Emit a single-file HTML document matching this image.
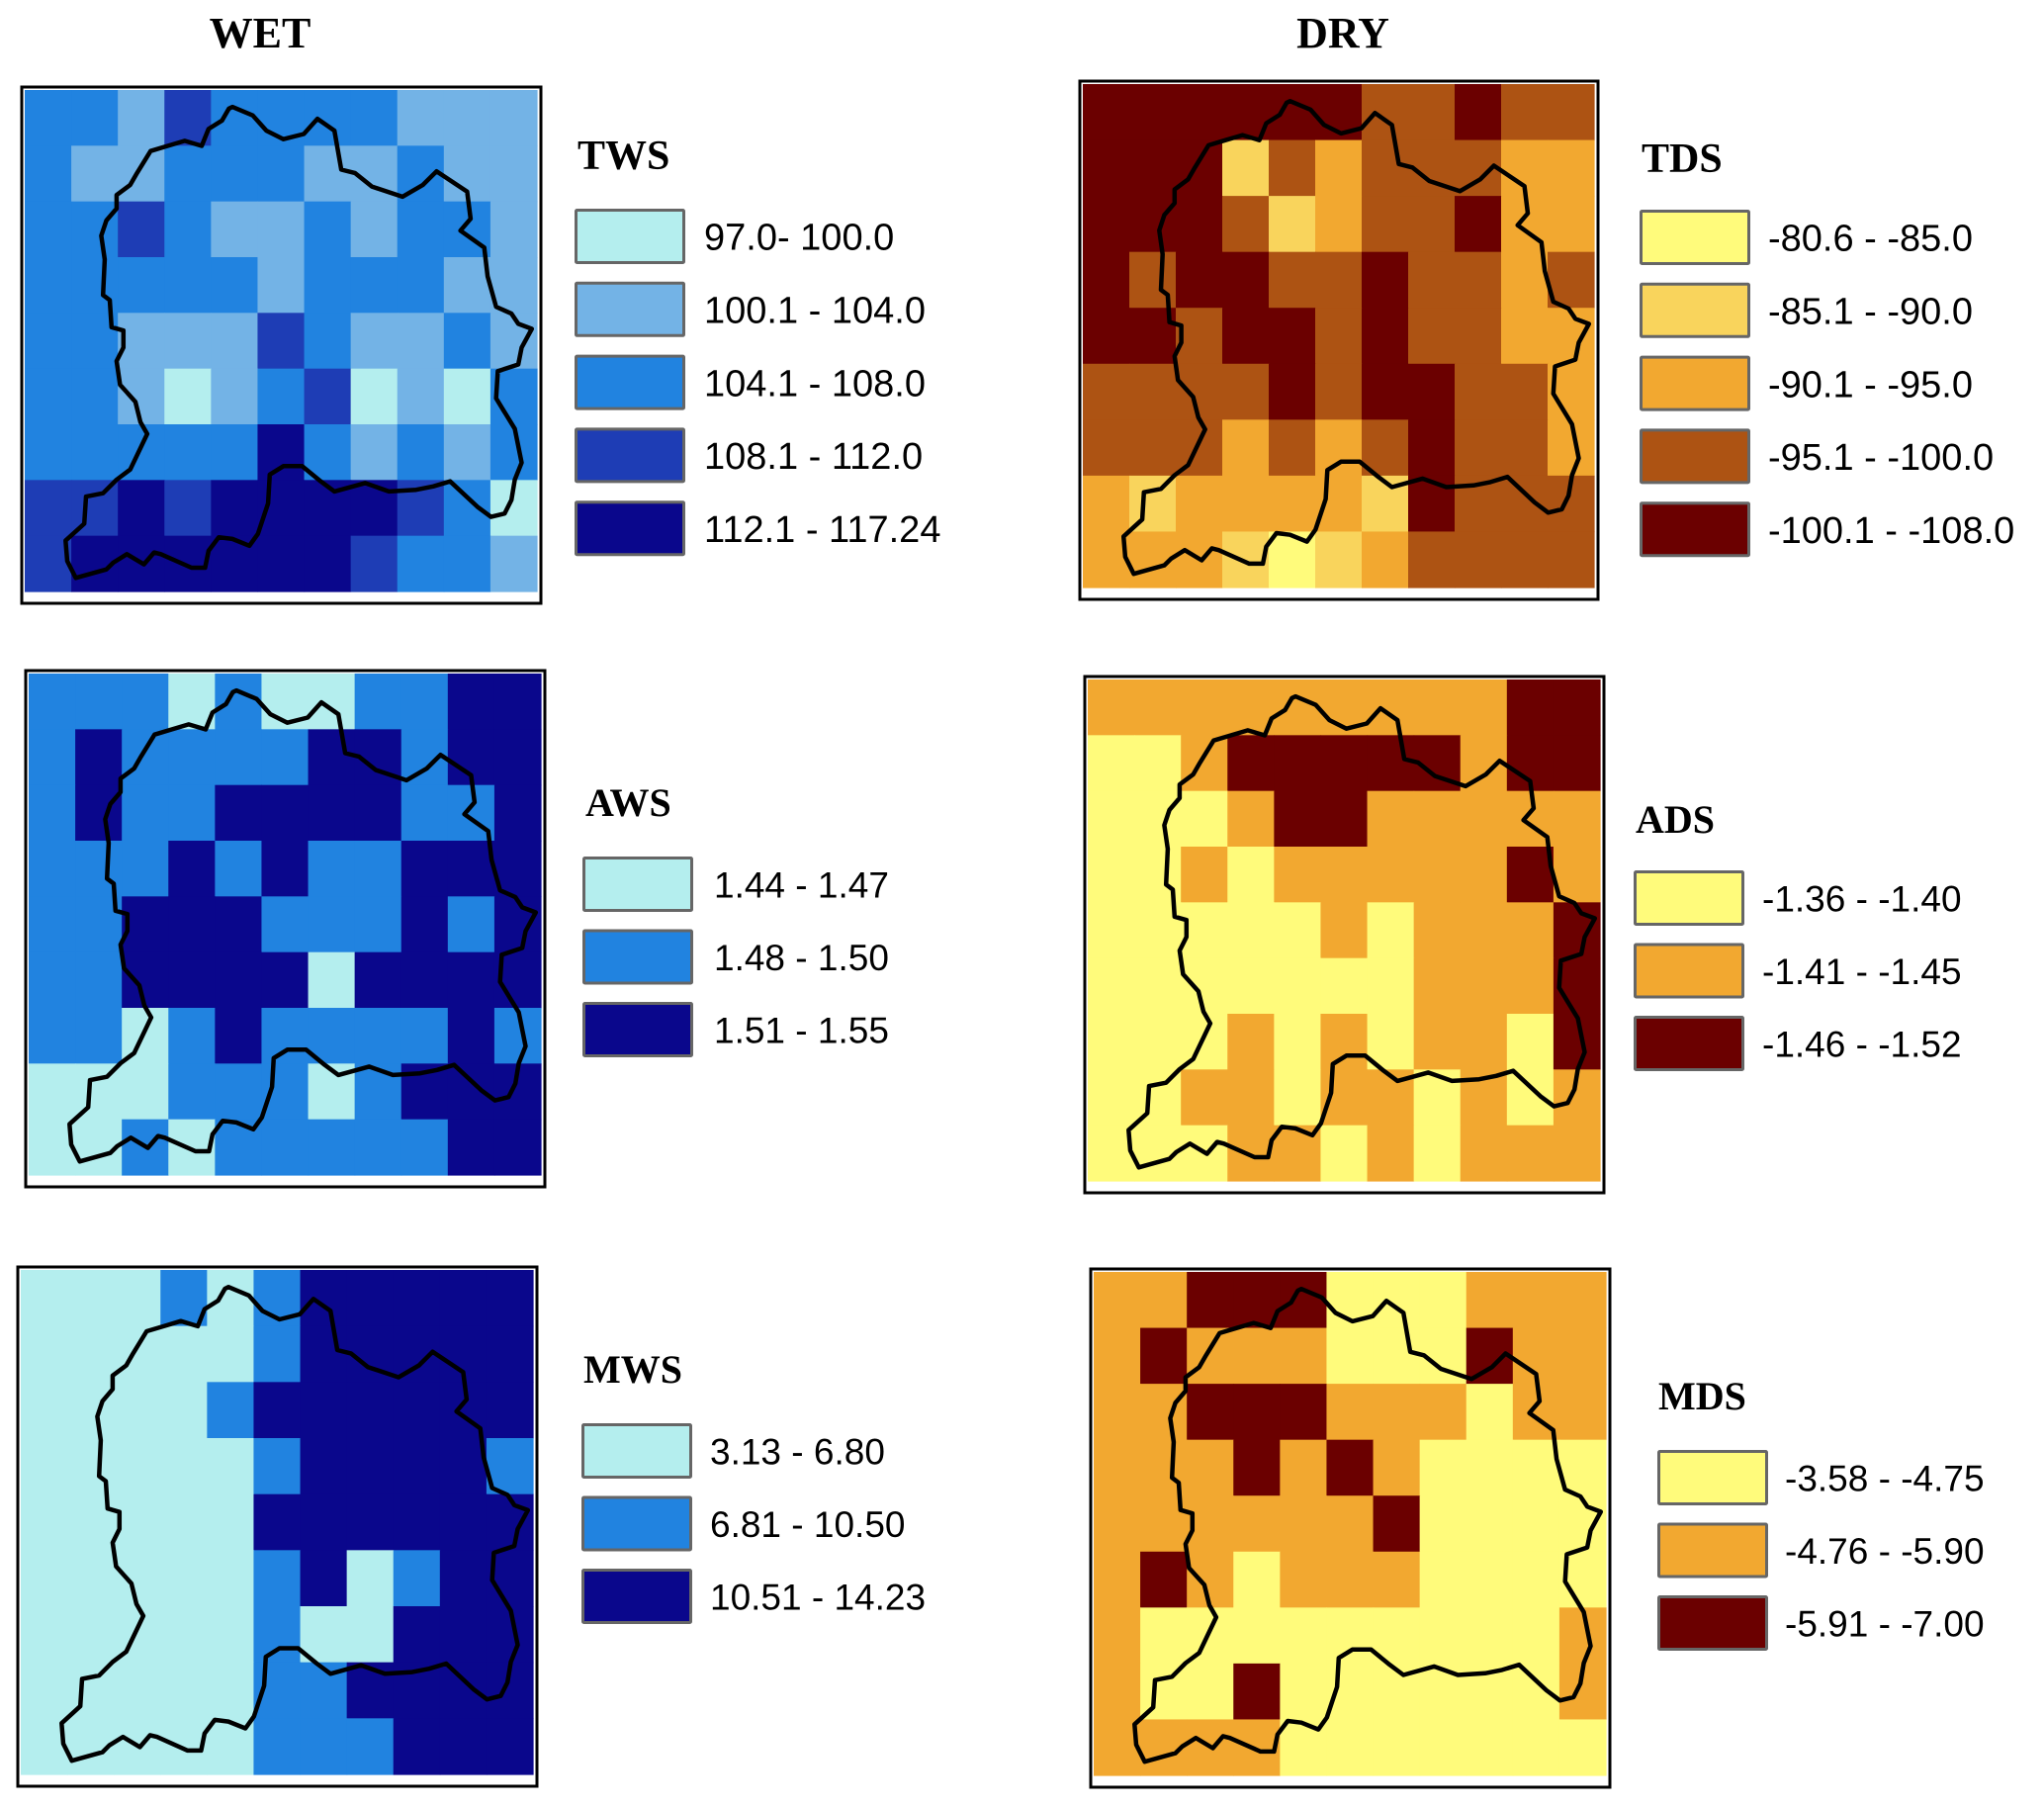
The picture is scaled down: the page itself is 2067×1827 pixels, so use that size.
<!DOCTYPE html>
<html><head><meta charset="utf-8">
<style>
html,body{margin:0;padding:0;background:#fff;}
svg{display:block;}
.t{font-family:"Liberation Serif",serif;font-weight:bold;}
.l{font-family:"Liberation Sans",sans-serif;}
</style></head>
<body>
<svg id="fig" width="2067" height="1827" viewBox="0 0 2067 1827" xmlns="http://www.w3.org/2000/svg">
<text x="263" y="48" text-anchor="middle" class="t" font-size="44">WET</text>
<text x="1358" y="48" text-anchor="middle" class="t" font-size="44">DRY</text>
</svg>
<script>
// palettes
const blueColors = {L:"#b4eeee",A:"#73b3e6",M:"#2183e0",D:"#1e3db5",N:"#0a078c"};
const orangeColors = {Y:"#fffb7b",P:"#f9d45c",O:"#f2a830",B:"#ad5313",R:"#6b0000"};

// grid class data (rows top->bottom, 11 columns)
const twsGrid = ["MMADMMMMAAA","MAAMMMAAMAA","MMDMAAMAMMA","MMMMMAMMMAA","MMAAADMAAMA","MMALAMDLALM","MMMMMNMAMAM","DDNDNNNNDML","DNNNNNNDMMA"];
const tdsGrid = ["RRRRRRBBRBB","RRRPBOBBBOO","RRRBPOBBROO","RBRRBBRBBOB","RRBRRBRBBOO","BBBBRBRRBBO","BBBOBOBRBBO","OPOOOOPRBBB","OOOPYPOBBBB"];
const awsGrid = ["MMMLMLLMMNN","MNMMMMNNMNN","MNMMNNNNMMN","MMMNMNMMNNN","MMNNNMMMNMN","MMNNNNLNNNN","MMLMNMMMMNM","LLLMMMLMNNN","LLMLMMMMMNN"];
const adsGrid = ["OOOOOOOOORR","YYORRRRRORR","YYYORROOOOO","YYOYOOOOORO","YYYYYOYOOOR","YYYYYYYOOOR","YYYOYOYOOYR","YYOOYOOYOYO","YYYOOYOYOOO"];
const mwsGrid = ["LLLMLMNNNNN","LLLLLMNNNNN","LLLLMNNNNNN","LLLLLMNNNNM","LLLLLNNNNNN","LLLLLMNLMNN","LLLLLMLLNNN","LLLLLMMNNNN","LLLLLMMMNNN"];
const mdsGrid = ["OORRRYYYOOO","OROOOYYYROO","OORRROOOYOO","OOOROROYYYY","OOOOOORYYYY","OROYOOOYYYY","OYYYYYYYYYO","OYYRYYYYYYO","OOOOYYYYYYY"];

// legend data
const twsLabels = ["97.0- 100.0","100.1 - 104.0","104.1 - 108.0","108.1 - 112.0","112.1 - 117.24"];
const tdsLabels = ["-80.6 - -85.0","-85.1 - -90.0","-90.1 - -95.0","-95.1 - -100.0","-100.1 - -108.0"];
const awsLabels = ["1.44 - 1.47","1.48 - 1.50","1.51 - 1.55"];
const adsLabels = ["-1.36 - -1.40","-1.41 - -1.45","-1.46 - -1.52"];
const mwsLabels = ["3.13 - 6.80","6.81 - 10.50","10.51 - 14.23"];
const mdsLabels = ["-3.58 - -4.75","-4.76 - -5.90","-5.91 - -7.00"];

// basin outline, normalized
const outlineZ = [[640,80],[700,105],[740,150],[790,175],[850,160],[890,115],[940,150],[960,265],[1000,275],[1050,315],[1140,345],[1200,310],[1240,270],[1330,330],[1340,410],[1310,445],[1380,495],[1390,580],[1415,670],[1460,690],[1480,720],[1520,735],[1490,790],[1480,840],[1420,860],[1415,940],[1470,1030],[1490,1130],[1470,1180],[1460,1240],[1440,1280],[1400,1290],[1360,1260],[1280,1185],[1230,1200],[1180,1210],[1100,1215],[1030,1190],[940,1215],[900,1185],[845,1140],[790,1140],[750,1165],[745,1250],[715,1340],[690,1375],[640,1355],[600,1350],[570,1390],[560,1440],[520,1440],[430,1400],[410,1395],[380,1430],[330,1400],[290,1425],[270,1445],[180,1470],[155,1420],[150,1360],[205,1310],[210,1230],[260,1220],[300,1180],[340,1150],[390,1045],[370,1010],[355,950],[310,900],[300,830],[320,790],[320,740],[285,730],[280,650],[260,635],[265,530],[255,460],[270,415],[300,380],[300,340],[340,310],[360,275],[400,210],[450,195],[500,180],[550,195],[570,145],[610,120],[630,85]];

const NS="http://www.w3.org/2000/svg";
const svg=document.getElementById('fig');
function mk(tag,attrs,parent){const e=document.createElementNS(NS,tag);for(const k in attrs)e.setAttribute(k,attrs[k]);(parent||svg).appendChild(e);return e;}

function drawMap(name,grid,colors,f){
  const box={x0:f.fx0+3,y0:f.fy0+3,x1:f.fx1-4,y1:f.fy1-12};
  const g=mk('g',{});
  
  
  mk('rect',{x:f.fx0,y:f.fy0,width:f.fx1-f.fx0,height:f.fy1-f.fy0,fill:'#fff'},g);
  const rows=grid.length, cols=grid[0].length;
  const cw=(box.x1-box.x0)/cols, ch=(box.y1-box.y0)/rows;
  const sx=c=>box.x0+c*cw, sy=r=>box.y0+r*ch;
  for(let r=0;r<rows;r++)for(let c=0;c<cols;c++){
    const cell=mk('rect',{x:sx(c).toFixed(2),y:sy(r).toFixed(2),width:(cw+0.6).toFixed(2),height:(ch+0.6).toFixed(2),fill:colors[grid[r][c]]},g);
    
    
  }
  const pts=outlineZ.map(p=>{const nx=(p[0]-30)/1505, ny=(p[1]-30)/1480;return (box.x0+nx*(box.x1-box.x0)).toFixed(1)+','+(box.y0+ny*(box.y1-box.y0)).toFixed(1);}).join(' ');
  const ol=mk('polygon',{points:pts,fill:'none',stroke:'#000','stroke-width':4.5,'stroke-linejoin':'round'},g);
  
  
  const fr=mk('rect',{x:f.fx0,y:f.fy0,width:f.fx1-f.fx0,height:f.fy1-f.fy0,fill:'none',stroke:'#000','stroke-width':3},g);
  
  
}

function drawLegend(name,title,labels,colorKeys,colors,L){
  const g=mk('g',{});
  
  
  const t=mk('text',{x:L.tx,y:L.ty,'font-size':L.tf||40,class:'t'},g);
  t.textContent=title;
  
  
  labels.forEach((lab,i)=>{
    const y=L.sy+i*L.step;
    const sw=mk('rect',{x:L.sx+1.5,y:y+1.5,width:L.sw-3,height:L.sh-3,fill:colors[colorKeys[i]],stroke:'#666','stroke-width':3,rx:1},g);
    
    
    const tx=mk('text',{x:L.lx,y:y+L.sh/2+L.fs*0.36,'font-size':L.fs,class:'l',fill:'#000'},g);
    tx.textContent=lab;
    
    
  });
}

drawMap('tws',twsGrid,blueColors,{fx0:22,fy0:88,fx1:547,fy1:610});
drawMap('tds',tdsGrid,orangeColors,{fx0:1092,fy0:82,fx1:1616,fy1:606});
drawMap('aws',awsGrid,blueColors,{fx0:26,fy0:678,fx1:551,fy1:1200});
drawMap('ads',adsGrid,orangeColors,{fx0:1097,fy0:684,fx1:1622,fy1:1206});
drawMap('mws',mwsGrid,blueColors,{fx0:18,fy0:1281,fx1:543,fy1:1806});
drawMap('mds',mdsGrid,orangeColors,{fx0:1103,fy0:1283,fx1:1628,fy1:1807});

drawLegend('tws','TWS',twsLabels,['L','A','M','D','N'],blueColors,{tx:584,ty:171,tf:42,sx:581,sy:211,sw:112,sh:56,step:73.8,lx:712,fs:38});
drawLegend('tds','TDS',tdsLabels,['Y','P','O','B','R'],orangeColors,{tx:1660,ty:174,tf:42,sx:1658,sy:212,sw:112,sh:56,step:73.8,lx:1788,fs:38});
drawLegend('aws','AWS',awsLabels,['L','M','N'],blueColors,{tx:592,ty:825,sx:589,sy:866,sw:112,sh:56,step:73.5,lx:722,fs:37});
drawLegend('ads','ADS',adsLabels,['Y','O','R'],orangeColors,{tx:1654,ty:842,sx:1652,sy:880,sw:112,sh:56,step:73.5,lx:1782,fs:37});
drawLegend('mws','MWS',mwsLabels,['L','M','N'],blueColors,{tx:590,ty:1398,sx:588,sy:1439,sw:112,sh:56,step:73.5,lx:718,fs:37});
drawLegend('mds','MDS',mdsLabels,['Y','O','R'],orangeColors,{tx:1677,ty:1425,sx:1676,sy:1466,sw:112,sh:56,step:73.5,lx:1805,fs:37});
</script>
</body></html>
